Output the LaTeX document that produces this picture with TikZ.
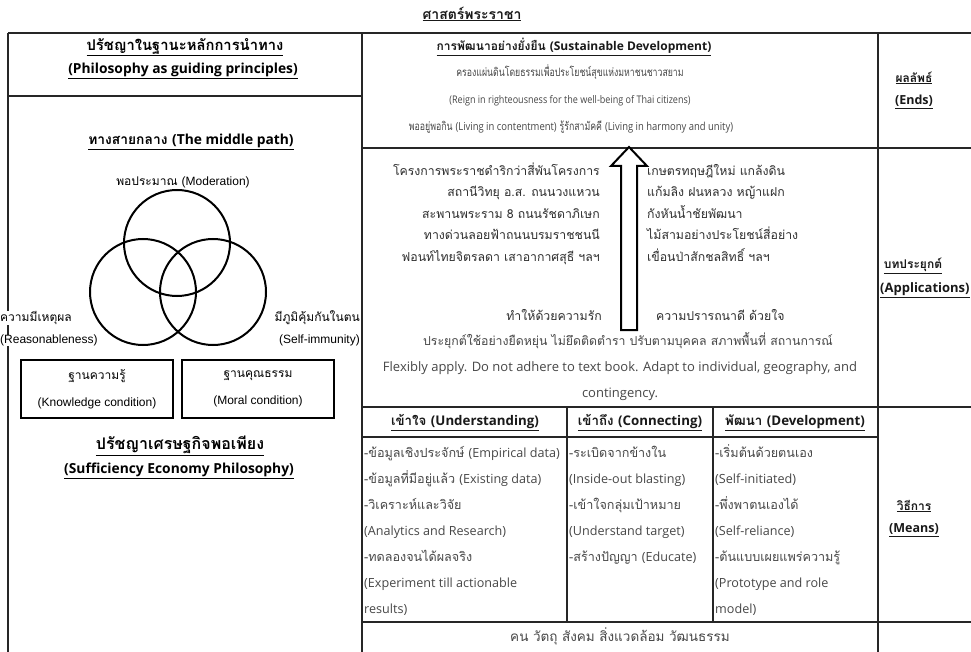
\documentclass[tikz,border=0pt]{standalone}
\usepackage{fontspec}
\setmainfont[Script=Thai]{Loma}
\newfontfamily\thcond[Script=Thai, FakeStretch=0.76]{Loma}
\newfontfamily\en{Open Sans}
\newfontfamily\encond[FakeStretch=0.86]{Open Sans}
\newfontfamily\ar{Liberation Sans}
\newcommand\myfs[1]{\fontsize{#1}{#1}\selectfont}
\begin{document}
\begin{tikzpicture}[x=1pt,y=-1pt,
  tl/.style={draw=black!85, line width=1.4pt},
  tx/.style={inner sep=0pt, text=black!72, anchor=base, yshift=-3.5pt},
  hd/.style={inner sep=0pt, text=black!90, font=\bfseries},
  lv/.style={inner sep=0pt, text=black, anchor=base, yshift=-3.5pt, font=\myfs{12}},
  venn/.style={circle, draw=black, line width=2pt, minimum size=106pt, inner sep=0pt},
  cond/.style={draw=black, line width=2pt, minimum width=152pt, minimum height=58pt, align=center, font={\fontsize{12}{27}\selectfont}, inner sep=0pt},
  arrowshape/.style={draw=black, line width=2pt, fill=white, line join=miter},
]
\useasboundingbox (0,0) rectangle (971,652);
\fill[white] (0,0) rectangle (971,652);

% title
\node[hd, font=\bfseries\myfs{14}] (title) at (472,14) {\underline{ศาสตร์พระราชา}};

% table lines
\draw[tl] (8,33) -- (990,33);
\draw[tl] (8,33) -- (8,660);
\draw[tl, line width=2pt] (362,33) -- (362,660);
\draw[tl] (878,33) -- (878,660);
\draw[tl] (8,96) -- (362,96);
\draw[tl] (362,148) -- (990,148);
\draw[tl] (362,407) -- (990,407);
\draw[tl, line width=2pt] (362,437) -- (878,437);
\draw[tl] (567,407) -- (567,622);
\draw[tl] (713,407) -- (713,622);
\draw[tl] (362,622) -- (990,622);

% left column
\node[hd,text=black, font=\bfseries\myfs{14.8}] (lh1) at (185,47) {\underline{ปรัชญาในฐานะหลักการนำทาง}};
\node[hd,text=black, font=\bfseries\en\myfs{13.8}] (lh2) at (183,71) {\underline{(Philosophy as guiding principles)}};
\node[hd,text=black, font=\bfseries\myfs{13.8}] (mp) at (191,142) {\underline{ทางสายกลาง {\en(The middle path)}}};
\node[lv] (mod) at (183,182) {พอประมาณ {\ar(Moderation)}};
\node[venn] (vt) at (177,243) {};
\node[venn] (vl) at (143,292) {};
\node[venn] (vr) at (213,292) {};
\node[lv, fill=white, anchor=base west] (r1) at (0,318) {ความมีเหตุผล};
\node[lv, fill=white, anchor=base west, font=\ar\myfs{12}] (r2) at (0,340) {(Reasonableness)};
\node[lv, anchor=base east] (s1) at (360,318) {มีภูมิคุ้มกันในตน};
\node[lv, anchor=base east, font=\ar\myfs{12}] (s2) at (360,340) {(Self-immunity)};
\node[cond] (kc) at (97,389) {ฐานความรู้\\{\ar(Knowledge condition)}};
\node[cond] (mc) at (258,389) {ฐานคุณธรรม\\{\ar(Moral condition)}};
\node[hd,text=black, font=\bfseries\myfs{16}] (sep1) at (180,446) {\underline{ปรัชญาเศรษฐกิจพอเพียง}};
\node[hd,text=black, font=\bfseries\en\myfs{13.8}] (sep2) at (179,471) {\underline{(Sufficiency Economy Philosophy)}};

% middle top
\node[hd, font=\bfseries\myfs{12}] (sd) at (574,47) {\underline{การพัฒนาอย่างยั่งยืน {\en(Sustainable Development)}}};
\node[tx, font=\thcond\myfs{11.5}] (m1) at (570,73) {ครองแผ่นดินโดยธรรมเพื่อประโยชน์สุขแห่งมหาชนชาวสยาม};
\node[tx, font=\encond\myfs{10.5}] (m2) at (570,100) {(Reign in righteousness for the well-being of Thai citizens)};
\node[tx, font=\thcond\myfs{11.5}] (m3) at (571,127) {พออยู่พอกิน {\encond\myfs{11}(Living in contentment)} รู้รักสามัคคี {\encond\myfs{11}(Living in harmony and unity)}};

% arrow
\draw[arrowshape] (621,330) -- (621,166) -- (611,166) -- (629,147) -- (647,166) -- (637,166) -- (637,330) -- cycle;

% middle applications
\begin{scope}[every node/.append style={tx, text=black!82, font=\myfs{12.3}}]
\node[anchor=base east] (p1) at (600,172) {โครงการพระราชดำริกว่าสี่พันโครงการ};
\node[anchor=base east] (p2) at (600,193) {สถานีวิทยุ อ.ส. ถนนวงแหวน};
\node[anchor=base east] (p3) at (600,215) {สะพานพระราม 8 ถนนรัชดาภิเษก};
\node[anchor=base east] (p4) at (600,236) {ทางด่วนลอยฟ้าถนนบรมราชชนนี};
\node[anchor=base east] (p5) at (600,258) {ฟอนท์ไทยจิตรลดา เสาอากาศสุธี ฯลฯ};
\node[anchor=base west] (q1) at (647,172) {เกษตรทฤษฎีใหม่ แกล้งดิน};
\node[anchor=base west] (q2) at (647,193) {แก้มลิง ฝนหลวง หญ้าแฝก};
\node[anchor=base west] (q3) at (647,215) {กังหันน้ำชัยพัฒนา};
\node[anchor=base west] (q4) at (647,236) {ไม้สามอย่างประโยชน์สี่อย่าง};
\node[anchor=base west] (q5) at (647,258) {เขื่อนป่าสักชลสิทธิ์ ฯลฯ};
\node[anchor=base east] (love) at (602,317) {ทำให้ด้วยความรัก};
\node[anchor=base west] (will) at (656,317) {ความปรารถนาดี ด้วยใจ};
\end{scope}
\node[tx, font=\myfs{12.3}] (fl1) at (628,342) {ประยุกต์ใช้อย่างยืดหยุ่น ไม่ยึดติดตำรา ปรับตามบุคคล สภาพพื้นที่ สถานการณ์};
\node[tx, font=\en\myfs{13}] (fl2) at (620,368) {Flexibly apply. Do not adhere to text book. Adapt to individual, geography, and};
\node[tx, font=\en\myfs{13}] (fl3) at (620,394) {contingency.};

% means table
\node[hd, font=\bfseries\myfs{13.3}] (hu) at (465,423) {\underline{เข้าใจ {\en(Understanding)}}};
\node[hd, font=\bfseries\myfs{13.3}] (hc) at (640,423) {\underline{เข้าถึง {\en(Connecting)}}};
\node[hd, font=\bfseries\myfs{13.3}] (hdv) at (795,423) {\underline{พัฒนา {\en(Development)}}};
\begin{scope}[every node/.append style={tx, anchor=base west, font=\myfs{12.6}}]
\foreach \t [count=\i] in {{-ข้อมูลเชิงประจักษ์ {\en(Empirical data)}},{-ข้อมูลที่มีอยู่แล้ว {\en(Existing data)}},{-วิเคราะห์และวิจัย},{{\en(Analytics and Research)}},{-ทดลองจนได้ผลจริง},{{\en(Experiment till actionable}},{{\en results)}}}
  \node (u\i) at (364,{454+26*(\i-1)}) {\t};
\foreach \t [count=\i] in {{-ระเบิดจากข้างใน},{{\en(Inside-out blasting)}},{-เข้าใจกลุ่มเป้าหมาย},{{\en(Understand target)}},{-สร้างปัญญา {\en(Educate)}}}
  \node (c\i) at (569,{454+26*(\i-1)}) {\t};
\foreach \t [count=\i] in {{-เริ่มต้นด้วยตนเอง},{{\en(Self-initiated)}},{-พึ่งพาตนเองได้},{{\en(Self-reliance)}},{-ต้นแบบเผยแพร่ความรู้},{{\en(Prototype and role}},{{\en model)}}}
  \node (d\i) at (715,{454+26*(\i-1)}) {\t};
\end{scope}
\node[tx, font=\myfs{13.5}] (people) at (620,638) {คน วัตถุ สังคม สิ่งแวดล้อม วัฒนธรรม};

% right column
\node[hd, font=\bfseries\myfs{12}] (e1) at (914,78) {\underline{ผลลัพธ์}};
\node[hd, font=\bfseries\en\myfs{12.5}] (e2) at (914,102) {\underline{(Ends)}};
\node[hd, font=\bfseries\myfs{12}] (a1) at (913,266) {\underline{บทประยุกต์}};
\node[hd, anchor=west, font=\bfseries\en\myfs{13}] (a2) at (880,290) {\underline{(Applications)}};
\node[hd, font=\bfseries\myfs{12}] (w1) at (914,506) {\underline{วิธีการ}};
\node[hd, font=\bfseries\en\myfs{12.5}] (w2) at (914,530) {\underline{(Means)}};
\end{tikzpicture}
\end{document}
